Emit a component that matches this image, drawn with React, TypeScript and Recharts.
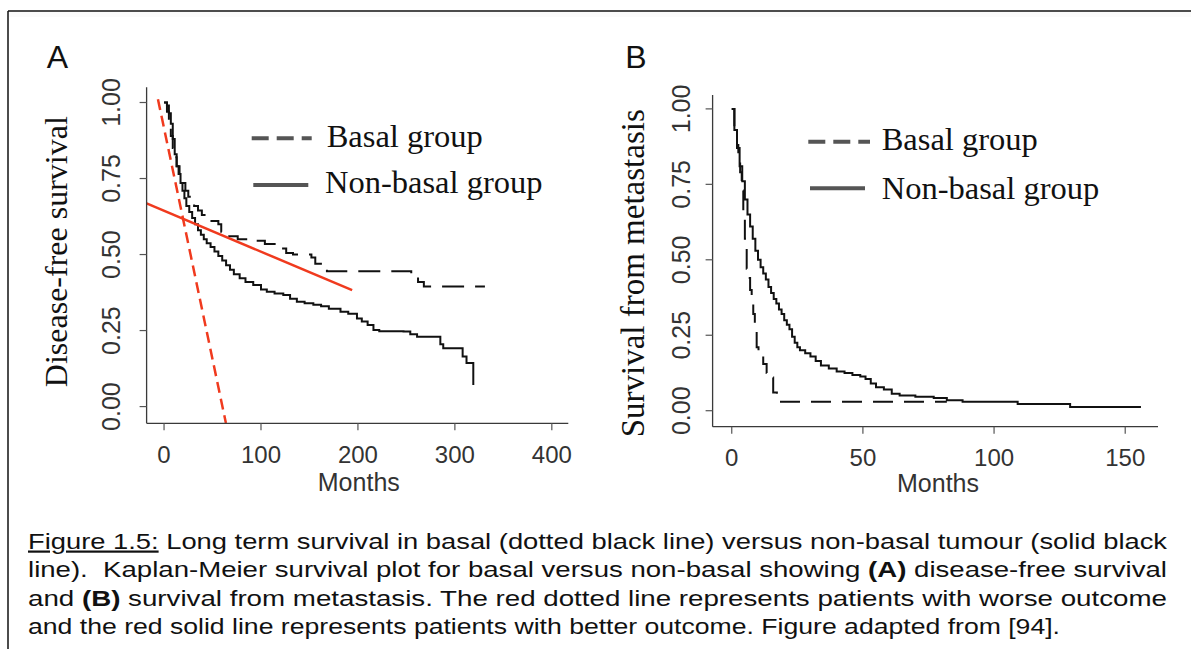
import { LineChart, Line, XAxis, YAxis, Legend } from "recharts";

// ---- axes ----
const dfsTicksX = [0, 100, 200, 300, 400];
const metTicksX = [0, 50, 100, 150];
const survTicksY = [0, 0.25, 0.5, 0.75, 1];

// ---- panel A: disease-free survival (Kaplan-Meier steps) ----
const dfsBasalMonths = [0, 3, 5, 7, 9, 11, 13, 16, 19, 22, 25, 28, 31, 35, 39, 44, 56, 59, 66, 76, 90, 104, 120, 126, 133, 152, 156, 168, 255, 262, 268, 331];
const dfsBasalSurv = [1, 0.97, 0.93, 0.89, 0.85, 0.82, 0.79, 0.76, 0.735, 0.71, 0.69, 0.675, 0.66, 0.645, 0.63, 0.61, 0.6, 0.575, 0.56, 0.55, 0.545, 0.535, 0.52, 0.505, 0.5, 0.49, 0.47, 0.445, 0.43, 0.41, 0.395, 0.395];

const dfsNonBasalMonths = [0, 3, 5, 7, 9, 11, 13, 15, 17, 19, 21, 23, 26, 29, 32, 35, 38, 41, 44, 48, 52, 56, 60, 64, 68, 72, 78, 84, 92, 100, 106, 114, 123, 130, 137, 145, 154, 162, 170, 182, 190, 199, 204, 210, 216, 222, 247, 254, 261, 285, 288, 292, 308, 312, 319];
const dfsNonBasalSurv = [1, 0.99, 0.965, 0.93, 0.88, 0.83, 0.79, 0.765, 0.735, 0.71, 0.685, 0.66, 0.64, 0.62, 0.6, 0.58, 0.565, 0.55, 0.537, 0.525, 0.51, 0.495, 0.48, 0.465, 0.45, 0.435, 0.422, 0.41, 0.4, 0.385, 0.378, 0.372, 0.367, 0.355, 0.345, 0.34, 0.335, 0.33, 0.322, 0.312, 0.305, 0.29, 0.28, 0.268, 0.252, 0.248, 0.247, 0.238, 0.23, 0.205, 0.192, 0.192, 0.165, 0.143, 0.071];

// red guide lines drawn over panel A
const worseMonths = [-6.3, 63.8];
const worseSurv = [1.011, -0.054];
const betterMonths = [-18, 194];
const betterSurv = [0.668, 0.383];

// ---- panel B: survival from metastasis ----
const metBasalMonths = [0, 1, 2, 2.5, 3.2, 3.8, 4.4, 5, 5.7, 6.4, 7, 7.6, 8.2, 8.8, 9.5, 10.2, 10.8, 12, 13.3, 14.6, 15.8, 17.2, 82];
const metBasalSurv = [1, 0.94, 0.88, 0.84, 0.79, 0.73, 0.65, 0.57, 0.47, 0.44, 0.4, 0.36, 0.32, 0.27, 0.21, 0.2, 0.19, 0.155, 0.125, 0.11, 0.06, 0.03, 0.03];

const metNonBasalMonths = [0, 1, 2, 3, 4, 5, 6, 7, 8, 9, 10, 11, 12, 13, 14, 15, 16, 17, 18, 19, 20, 21, 22, 23, 24, 25, 26, 28, 30, 32, 34, 37, 40, 43, 46, 49, 51, 53, 55, 58, 61, 64, 70, 77, 82, 88, 109, 129, 156];
const metNonBasalSurv = [1, 0.93, 0.87, 0.81, 0.76, 0.7, 0.65, 0.61, 0.57, 0.53, 0.5, 0.475, 0.455, 0.435, 0.41, 0.39, 0.37, 0.355, 0.335, 0.32, 0.3, 0.285, 0.27, 0.245, 0.225, 0.21, 0.2, 0.19, 0.18, 0.165, 0.15, 0.14, 0.13, 0.125, 0.118, 0.113, 0.105, 0.09, 0.078, 0.07, 0.056, 0.05, 0.046, 0.042, 0.035, 0.03, 0.022, 0.012, 0.012];

const zip = (months: number[], surv: number[]) => months.map((m, i) => ({ m, s: surv[i] }));

const SANS = '"Liberation Sans", Arial, sans-serif';
const SERIF = '"Liberation Serif", "Times New Roman", serif';
const RED = "#f03a1e";
const INK = "#111";

function YTick({ x, y, payload, off }: any) {
  const bx = x - off;
  return (
    <text x={bx} y={y} transform={`rotate(-90 ${bx} ${y})`} textAnchor="middle" fontFamily={SANS} fontSize={25} fill="#333">
      {Number(payload.value).toFixed(2)}
    </text>
  );
}

function XTick({ x, y, payload, off }: any) {
  return (
    <text x={x} y={y + off} textAnchor="middle" fontFamily={SANS} fontSize={24} fill="#333">
      {payload.value}
    </text>
  );
}

type Row = { x1: number; x2: number; y: number; tx: number; ty: number; dash?: string };

function KmLegend({ payload, rows }: any) {
  return (
    <svg width={320} height={100} style={{ display: "block" }}>
      {(payload || []).map((entry: any, i: number) => {
        const r: Row = rows[i];
        if (!r) return null;
        return (
          <g key={entry.value}>
            <line x1={r.x1} x2={r.x2} y1={r.y} y2={r.y} stroke="#555" strokeWidth={4} strokeDasharray={r.dash} />
            <text x={r.tx} y={r.ty} fontFamily={SERIF} fontSize={32.5} fill={INK}>
              {entry.value}
            </text>
          </g>
        );
      })}
    </svg>
  );
}

const legendRowsA: Row[] = [
  { x1: 1.7, x2: 61.7, y: 23.3, tx: 76.7, ty: 31.7, dash: "17 8" },
  { x1: 3.3, x2: 58.3, y: 70, tx: 75, ty: 78.3 },
];
const legendRowsB: Row[] = [
  { x1: 1.3, x2: 63, y: 23.7, tx: 74.7, ty: 32, dash: "17 8" },
  { x1: 3, x2: 58, y: 70.3, tx: 74.7, ty: 81 },
];

const axisLine = { stroke: "#3a3a3a", strokeWidth: 1.3 };
const tickLine = { stroke: "#555", strokeWidth: 1.2 };

const captionLines = [
  { y: 548.5, len: 1139 },
  { y: 577, len: 1139 },
  { y: 605.5, len: 1139 },
  { y: 634, len: 1032 },
];

export default function App() {
  return (
    <div style={{ position: "absolute", left: 0, top: 0, width: 1191, height: 649, background: "#fff", overflow: "hidden" }}>
      <svg width={1191} height={649} style={{ position: "absolute", left: 0, top: 0 }}>
        <rect x={9} y={12} width={1182} height={5} fill="#fbfbfb" />
        <line x1={8} y1={11} x2={1191} y2={11} stroke={INK} strokeWidth={1.5} />
        <line x1={8} y1={11} x2={8} y2={649} stroke={INK} strokeWidth={1.5} />

        <text x={57.5} y={68} textAnchor="middle" fontFamily={SANS} fontSize={32} fill={INK}>A</text>
        <text x={636} y={68} textAnchor="middle" fontFamily={SANS} fontSize={32} fill={INK}>B</text>

        <text transform="translate(67 251.7) rotate(-90)" textAnchor="middle" fontFamily={SERIF} fontSize={32} fill={INK}>
          Disease-free survival
        </text>
        <text transform="translate(643.7 273.3) rotate(-90)" textAnchor="middle" fontFamily={SERIF} fontSize={33} fill={INK}>
          Survival from metastasis
        </text>

        <text x={358.8} y={491} textAnchor="middle" fontFamily={SANS} fontSize={25} fill="#333">Months</text>
        <text x={938} y={492} textAnchor="middle" fontFamily={SANS} fontSize={25} fill="#333">Months</text>

        <g fontFamily={SANS} fontSize={22} fill={INK}>
          <text xmlSpace="preserve" style={{ whiteSpace: "pre" }} x={28} y={captionLines[0].y} textLength={captionLines[0].len} lengthAdjust="spacingAndGlyphs">
            <tspan textDecoration="underline">Figure 1.5:</tspan>
            {" Long term survival in basal (dotted black line) versus non-basal tumour (solid black"}
          </text>
          <text xmlSpace="preserve" style={{ whiteSpace: "pre" }} x={28} y={captionLines[1].y} textLength={captionLines[1].len} lengthAdjust="spacingAndGlyphs">
            {"line).  Kaplan-Meier survival plot for basal versus non-basal showing "}
            <tspan fontWeight="bold">(A)</tspan>
            {" disease-free survival"}
          </text>
          <text xmlSpace="preserve" style={{ whiteSpace: "pre" }} x={28} y={captionLines[2].y} textLength={captionLines[2].len} lengthAdjust="spacingAndGlyphs">
            {"and "}
            <tspan fontWeight="bold">(B)</tspan>
            {" survival from metastasis. The red dotted line represents patients with worse outcome"}
          </text>
          <text x={28} y={captionLines[3].y} textLength={captionLines[3].len} lengthAdjust="spacingAndGlyphs">
            and the red solid line represents patients with better outcome. Figure adapted from [94].
          </text>
        </g>
      </svg>

      {/* Panel A */}
      <div style={{ position: "absolute", left: 0, top: 0 }}>
        <LineChart width={600} height={510} margin={{ top: 87.3, right: 31.7, bottom: 26.7, left: 86.6 }}>
          <XAxis
            type="number"
            dataKey="m"
            domain={[-18, 417]}
            ticks={dfsTicksX}
            allowDataOverflow
            height={60}
            axisLine={axisLine}
            tickLine={tickLine}
            tickSize={7}
            tickMargin={0}
            tick={(p: any) => <XTick {...p} off={32.7} />}
          />
          <YAxis
            type="number"
            domain={[-0.055, 1.05]}
            ticks={survTicksY}
            allowDataOverflow
            width={60}
            axisLine={axisLine}
            tickLine={tickLine}
            tickSize={7}
            tickMargin={0}
            tick={(p: any) => <YTick {...p} off={19.6} />}
          />
          <Line data={zip(dfsBasalMonths, dfsBasalSurv)} dataKey="s" name="Basal group" type="stepAfter" stroke={INK} strokeWidth={2} strokeDasharray="22 11" dot={false} activeDot={false} isAnimationActive={false} />
          <Line data={zip(dfsNonBasalMonths, dfsNonBasalSurv)} dataKey="s" name="Non-basal group" type="stepAfter" stroke={INK} strokeWidth={2} dot={false} activeDot={false} isAnimationActive={false} />
          <Line data={zip(worseMonths, worseSurv)} dataKey="s" name="worse" legendType="none" type="linear" stroke={RED} strokeWidth={2.5} strokeDasharray="11 6" dot={false} activeDot={false} isAnimationActive={false} />
          <Line data={zip(betterMonths, betterSurv)} dataKey="s" name="better" legendType="none" type="linear" stroke={RED} strokeWidth={2.5} dot={false} activeDot={false} isAnimationActive={false} />
          <Legend
            layout="horizontal"
            align="center"
            verticalAlign="middle"
            wrapperStyle={{ left: 250, top: 115, width: 320, height: 100 }}
            content={(props: any) => <KmLegend {...props} rows={legendRowsA} />}
          />
        </LineChart>
      </div>

      {/* Panel B */}
      <div style={{ position: "absolute", left: 600, top: 0 }}>
        <LineChart width={591} height={510} margin={{ top: 95, right: 33, bottom: 23.3, left: 52.6 }}>
          <XAxis
            type="number"
            dataKey="m"
            domain={[-7.3, 162.5]}
            ticks={metTicksX}
            allowDataOverflow
            height={60}
            axisLine={axisLine}
            tickLine={tickLine}
            tickSize={7}
            tickMargin={0}
            tick={(p: any) => <XTick {...p} off={32.3} />}
          />
          <YAxis
            type="number"
            domain={[-0.053, 1.046]}
            ticks={survTicksY}
            allowDataOverflow
            width={60}
            axisLine={axisLine}
            tickLine={tickLine}
            tickSize={7}
            tickMargin={0}
            tick={(p: any) => <YTick {...p} off={16} />}
          />
          <Line data={zip(metBasalMonths, metBasalSurv)} dataKey="s" name="Basal group" type="stepAfter" stroke={INK} strokeWidth={2} strokeDasharray="20 11" dot={false} activeDot={false} isAnimationActive={false} />
          <Line data={zip(metNonBasalMonths, metNonBasalSurv)} dataKey="s" name="Non-basal group" type="stepAfter" stroke={INK} strokeWidth={2} dot={false} activeDot={false} isAnimationActive={false} />
          <Legend
            layout="horizontal"
            align="center"
            verticalAlign="middle"
            wrapperStyle={{ left: 207, top: 118, width: 320, height: 100 }}
            content={(props: any) => <KmLegend {...props} rows={legendRowsB} />}
          />
        </LineChart>
      </div>
    </div>
  );
}
